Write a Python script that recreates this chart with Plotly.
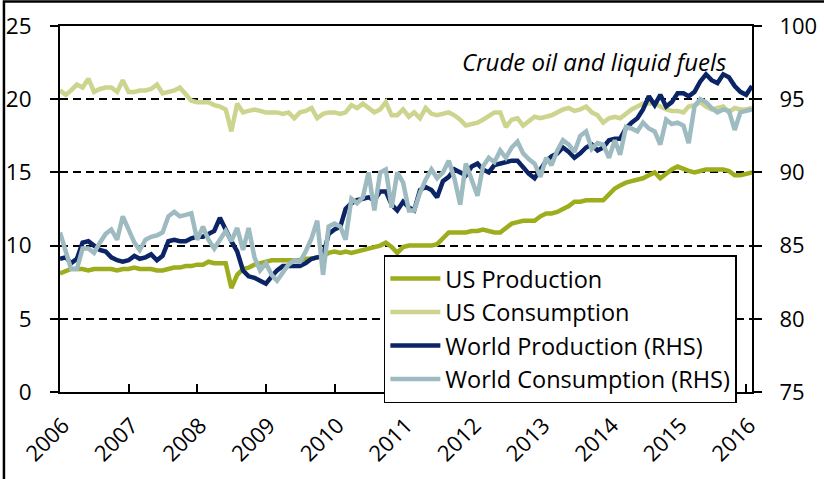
import pandas as pd
import plotly.graph_objects as go

# Monthly series, Jan 2006 - Feb 2016 (million barrels per day)
start_month = "2006-01-01"

us_production = [
    8.1, 8.3, 8.4, 8.4, 8.4, 8.3, 8.4, 8.4, 8.4, 8.4, 8.3, 8.4,
    8.4, 8.5, 8.4, 8.4, 8.4, 8.3, 8.3, 8.4, 8.5, 8.5, 8.6, 8.6,
    8.7, 8.7, 8.9, 8.8, 8.8, 8.8, 7.1, 8.0, 8.4, 8.5, 8.7, 8.8,
    8.9, 9.0, 9.0, 9.0, 9.0, 9.0, 9.0, 9.1, 9.1, 9.2, 9.3, 9.5,
    9.6, 9.5, 9.6, 9.5, 9.6, 9.7, 9.8, 9.9, 10.0, 10.2, 9.9, 9.5,
    9.9, 10.0, 10.0, 10.0, 10.0, 10.0, 10.1, 10.5, 10.9, 10.9, 10.9, 10.9,
    11.0, 11.0, 11.1, 11.0, 10.9, 10.9, 11.2, 11.5, 11.6, 11.7, 11.7, 11.7,
    12.0, 12.2, 12.2, 12.3, 12.5, 12.7, 13.0, 13.0, 13.1, 13.1, 13.1, 13.1,
    13.5, 13.9, 14.1, 14.3, 14.4, 14.5, 14.6, 14.8, 15.0, 14.6, 14.9, 15.2,
    15.4, 15.2, 15.1, 15.0, 15.1, 15.2, 15.2, 15.2, 15.2, 15.1, 14.8, 14.8,
    14.9, 15.0,
]

us_consumption = [
    20.6, 20.3, 20.6, 21.0, 20.8, 21.4, 20.5, 20.7, 20.8, 20.8, 20.5, 21.3,
    20.5, 20.5, 20.6, 20.6, 20.7, 21.0, 20.4, 20.5, 20.6, 20.8, 20.3, 19.9,
    19.8, 19.8, 19.8, 19.6, 19.5, 19.3, 17.8, 19.7, 19.1, 19.2, 19.3, 19.2,
    19.1, 19.1, 19.1, 19.0, 19.1, 18.7, 19.1, 19.2, 19.4, 18.7, 19.0, 19.1,
    19.1, 19.0, 19.1, 19.6, 19.4, 19.7, 19.4, 19.1, 19.3, 19.8, 18.9, 18.9,
    19.3, 18.8, 19.1, 18.7, 19.4, 19.0, 18.9, 19.0, 19.1, 18.9, 18.6, 18.2,
    18.3, 18.4, 18.6, 18.9, 19.1, 19.1, 18.1, 18.6, 18.7, 18.2, 18.5, 18.8,
    18.7, 18.8, 18.9, 19.1, 19.3, 19.4, 19.2, 19.3, 19.5, 19.1, 18.9, 18.4,
    18.7, 18.8, 18.7, 19.0, 19.3, 19.5, 19.7, 19.7, 19.7, 19.5, 19.3, 19.2,
    19.2, 19.1, 19.5, 19.6, 19.8, 19.5, 19.3, 19.4, 19.5, 19.1, 19.4, 19.3,
    19.3, 19.4,
]

world_production = [
    84.1, 84.2, 83.8, 84.1, 85.2, 85.3, 85.0, 84.7, 84.6, 84.2, 84.0, 83.9,
    84.0, 84.3, 84.1, 84.2, 84.4, 84.0, 84.3, 85.3, 85.4, 85.3, 85.3, 85.5,
    85.6, 85.6, 85.8, 86.0, 86.9, 86.0, 85.3, 84.6, 83.3, 82.9, 82.8, 82.6,
    82.4, 82.9, 83.3, 83.6, 83.6, 83.6, 83.6, 83.8, 84.1, 84.2, 84.3, 85.8,
    86.1, 86.3, 87.5, 87.9, 88.1, 88.2, 88.3, 88.1, 88.7, 88.7, 87.8, 87.4,
    88.0, 87.6, 87.4, 88.8, 89.0, 88.8, 88.3, 89.4, 89.7, 90.2, 90.0, 89.8,
    90.4, 90.6, 90.2, 90.0, 90.5, 90.6, 90.7, 90.8, 90.8, 90.3, 89.9, 89.6,
    90.2, 90.8, 91.1, 91.3, 91.7, 91.4, 91.0, 91.3, 91.7, 91.9, 91.5, 91.7,
    92.2, 92.3, 92.3, 93.0, 93.4, 93.7, 94.3, 95.2, 94.6, 95.3, 94.5, 94.8,
    95.4, 95.4, 95.2, 95.5, 96.2, 96.7, 96.3, 96.1, 96.7, 96.5, 95.9, 95.5,
    95.3, 95.9,
]

world_consumption = [
    85.9, 84.6, 83.4, 83.4, 84.8, 84.8, 84.5, 85.2, 85.8, 86.1, 85.4, 87.0,
    86.0, 85.2, 84.7, 85.4, 85.6, 85.7, 85.9, 87.0, 87.3, 87.0, 87.1, 87.2,
    85.4, 86.3, 85.4, 84.8, 85.4, 86.0, 85.3, 86.2, 84.7, 86.2, 84.2, 83.3,
    83.8, 83.0, 82.6, 83.1, 83.7, 84.0, 83.9, 84.6, 85.5, 86.7, 83.0, 86.3,
    86.5, 86.3, 85.4, 88.2, 87.9, 88.3, 90.0, 87.4, 90.0, 90.2, 87.6, 90.0,
    89.3, 87.4, 87.4, 88.6, 89.5, 90.2, 89.6, 90.0, 90.8, 89.6, 87.8, 90.6,
    89.5, 88.4, 90.4, 91.0, 90.7, 91.5, 91.0, 91.7, 92.1, 91.3, 90.9, 90.6,
    89.7, 91.0, 90.5, 91.5, 92.2, 91.9, 91.4, 92.5, 92.8, 91.6, 92.0, 91.9,
    91.0, 92.2, 91.2, 93.1, 93.0, 92.8, 93.4, 93.0, 92.8, 91.9, 93.6, 93.3,
    93.4, 93.2, 92.0, 94.5, 95.0, 94.8, 94.4, 94.1, 94.3, 94.2, 92.9, 94.1,
    94.2, 94.3,
]

years = list(range(2006, 2017))
year_labels = [str(y) for y in years]

months = pd.date_range(start_month, periods=len(us_production), freq="MS")

FONT = "Open Sans"
series = [
    ("US Production", us_production, "#9DAD1E", "y"),
    ("US Consumption", us_consumption, "#CDD48E", "y"),
    ("World Production (RHS)", world_production, "#0B2465", "y2"),
    ("World Consumption (RHS)", world_consumption, "#9EBBC1", "y2"),
]

fig = go.Figure()
for name, values, color, axis in series:
    fig.add_trace(go.Scatter(
        x=months, y=values, name=name, mode="lines", yaxis=axis,
        line=dict(color=color, width=4.5),
    ))

fig.update_layout(
    width=824, height=479,
    margin=dict(l=60, r=72, t=26, b=87),
    paper_bgcolor="white", plot_bgcolor="white",
    font=dict(family=FONT, size=22, color="black"),
    showlegend=True,
    legend=dict(
        x=0.468, y=0.374, xanchor="left", yanchor="top",
        bordercolor="black", borderwidth=1.5, bgcolor="white",
        font=dict(family=FONT, size=23.5, color="black"),
        itemwidth=50, tracegroupgap=0,
    ),
    xaxis=dict(
        type="date",
        range=["2006-01-01", "2016-02-01"],
        tickvals=[f"{y}-01-01" for y in years],
        ticktext=year_labels,
        tickangle=-45,
        ticks="inside", ticklen=8, tickwidth=1.5, tickcolor="black",
        showline=True, linecolor="black", linewidth=2, mirror=True,
        showgrid=False, zeroline=False, automargin=False,
        ticklabelstandoff=10, ticklabelshift=3,
        tickfont=dict(family=FONT, size=22),
    ),
    yaxis=dict(
        range=[0, 25], tick0=0, dtick=5,
        ticks="outside", ticklen=8, tickwidth=1.5, tickcolor="black",
        showline=True, linecolor="black", linewidth=2,
        showgrid=True, gridcolor="black", gridwidth=1.5, griddash="8px,5px",
        zeroline=False, ticklabelstandoff=14, automargin=False,
        tickfont=dict(family=FONT, size=22.5),
    ),
    yaxis2=dict(
        range=[75, 100], tick0=75, dtick=5,
        overlaying="y", side="right",
        ticks="outside", ticklen=8, tickwidth=1.5, tickcolor="black",
        showline=True, linecolor="black", linewidth=2,
        showgrid=False, zeroline=False, ticklabelstandoff=13, automargin=False,
        tickfont=dict(family=FONT, size=22),
    ),
    annotations=[dict(
        text="Crude oil and liquid fuels",
        xref="paper", yref="paper", x=0.966, y=0.902,
        xanchor="right", yanchor="middle", showarrow=False,
        font=dict(family=FONT, size=24, style="italic", color="black"),
    )],
    shapes=[dict(
        type="rect", xref="paper", yref="paper",
        x0=-0.081, x1=1.13, y0=-0.3, y1=1.067,
        line=dict(color="black", width=2.5), layer="below",
    )],
)

fig.write_html("out.html")
